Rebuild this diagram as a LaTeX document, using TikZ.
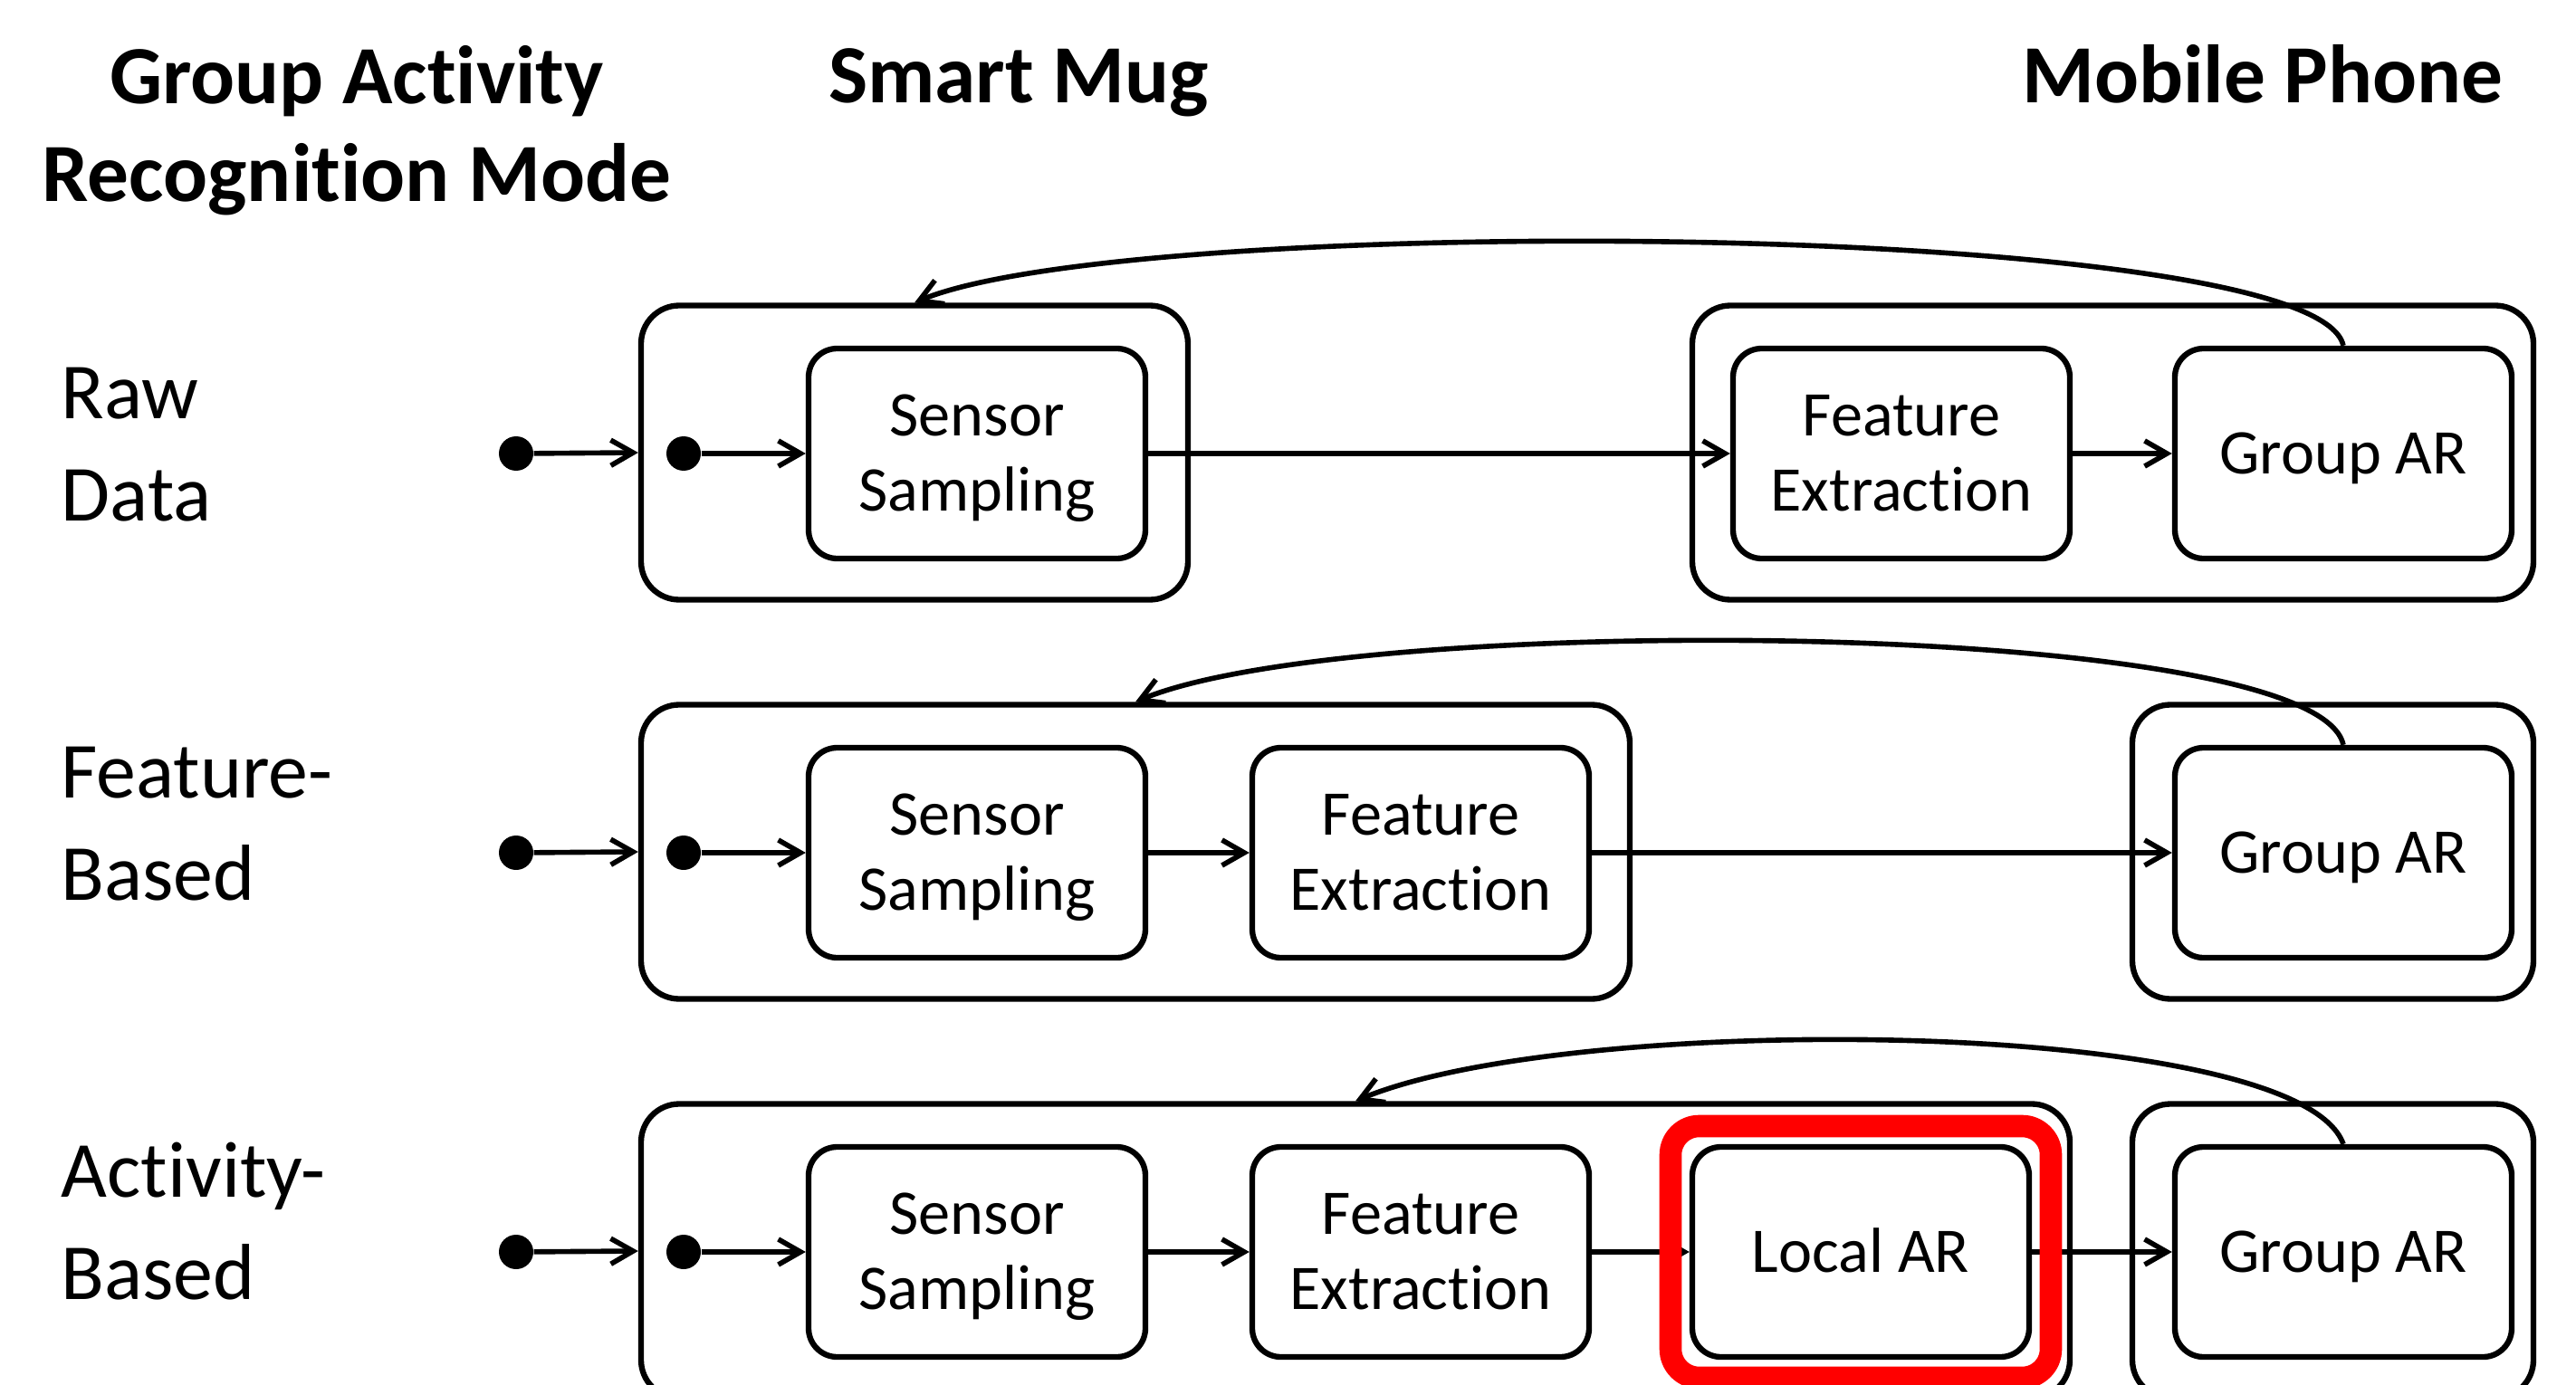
\documentclass[tikz,border=0pt]{standalone}
\usepackage{fontspec}
\setmainfont{Carlito}[Ligatures={NoCommon}]
\usetikzlibrary{positioning,arrows.meta}

\begin{document}
\begin{tikzpicture}[
    every node/.style={font=\fontsize{20}{23.5}\selectfont},
    stage/.style={rectangle, rounded corners=9pt, draw, line width=1.8pt, minimum width=3.72cm, minimum height=2.32cm, align=center, inner sep=0pt, text height=12.6pt, text depth=0pt},
    twoline/.style={text height=36.1pt},
    device/.style={rectangle, rounded corners=12pt, draw, line width=1.8pt, minimum height=3.25cm, inner sep=0pt},
    initdot/.style={circle, fill, inner sep=0pt, minimum size=0.38cm},
    flowarrow/.style={-{Straight Barb[length=7pt,width=8pt]}, line width=1.6pt},
    heading/.style={font=\fontsize{26}{31}\selectfont\bfseries, align=center, inner sep=0pt, anchor=base},
    modelabel/.style={font=\fontsize{25}{32}\selectfont, align=left, inner sep=0pt, anchor=base west}
]
    \useasboundingbox (0,0) rectangle (28.45,-15.30);
    \clip (0,0) rectangle (28.45,-15.30);

    % Column headings
    \node[heading] (modehead) at (3.94, -2.23) {Group Activity\\Recognition Mode};
    \node[heading] (mughead) at (11.25, -1.14) {Smart Mug};
    \node[heading] (phonehead) at (24.99, -1.14) {Mobile Phone};

    % Raw data mode
    \node[modelabel] (rawlabel) at (0.67, -5.75) {Raw\\Data};
    \node[device, minimum width=6.04cm] (mug1) at (10.10, -5.00) {};
    \node[device, minimum width=9.29cm] (phone1) at (23.335, -5.00) {};
    \node[initdot] (a1) at (5.70, -5.01) {};
    \node[initdot] (b1) at (7.55, -5.01) {};
    \node[stage, twoline] (ss1) at (10.79, -5.01) {Sensor\\Sampling};
    \node[stage, twoline] (fe1) at (21.00, -5.01) {Feature\\Extraction};
    \node[stage] (gar1) at (25.88, -5.01) {Group AR};
    \draw[flowarrow] (a1) -- (mug1.west);
    \draw[flowarrow] (b1) -- (ss1.west);
    \draw[flowarrow] (ss1.east) -- (fe1.west);
    \draw[flowarrow] (fe1.east) -- (gar1.west);
    \draw[flowarrow] (gar1.north) .. controls +(-0.3,1.4) and +(2.4,1.0) .. (mug1.north);

    % Feature-based mode
    \node[modelabel] (featlabel) at (0.67, -9.94) {Feature-\\Based};
    \node[device, minimum width=10.92cm] (mug2) at (12.54, -9.41) {};
    \node[device, minimum width=4.43cm] (phone2) at (25.765, -9.41) {};
    \node[initdot] (a2) at (5.70, -9.42) {};
    \node[initdot] (b2) at (7.55, -9.42) {};
    \node[stage, twoline] (ss2) at (10.79, -9.42) {Sensor\\Sampling};
    \node[stage, twoline] (fe2) at (15.69, -9.42) {Feature\\Extraction};
    \node[stage] (gar2) at (25.88, -9.42) {Group AR};
    \draw[flowarrow] (a2) -- (mug2.west);
    \draw[flowarrow] (b2) -- (ss2.west);
    \draw[flowarrow] (ss2.east) -- (fe2.west);
    \draw[flowarrow] (fe2.east) -- (gar2.west);
    \draw[flowarrow] (gar2.north) .. controls +(-0.3,1.4) and +(2.4,1.0) .. (mug2.north);

    % Activity-based mode
    \node[modelabel] (actlabel) at (0.67, -14.35) {Activity-\\Based};
    \node[device, minimum width=15.78cm] (mug3) at (14.97, -13.82) {};
    \node[device, minimum width=4.43cm] (phone3) at (25.765, -13.82) {};
    \node[initdot] (a3) at (5.70, -13.83) {};
    \node[initdot] (b3) at (7.55, -13.83) {};
    \node[stage, twoline] (ss3) at (10.79, -13.83) {Sensor\\Sampling};
    \node[stage, twoline] (fe3) at (15.69, -13.83) {Feature\\Extraction};
    \node[stage] (lar3) at (20.55, -13.83) {Local AR};
    \node[stage] (gar3) at (25.88, -13.83) {Group AR};
    \draw[flowarrow] (a3) -- (mug3.west);
    \draw[flowarrow] (b3) -- (ss3.west);
    \draw[flowarrow] (ss3.east) -- (fe3.west);
    \draw[flowarrow] (fe3.east) -- (lar3.west);
    \draw[flowarrow] (lar3.east) -- (gar3.west);
    \draw[flowarrow] (gar3.north) .. controls +(-0.5,1.4) and +(2.4,1.0) .. (mug3.north);

    % Highlight on the local recognition step
    \node[rectangle, rounded corners=9pt, draw=red, line width=7pt, minimum width=4.20cm, minimum height=2.78cm, inner sep=0pt] (hilite) at (lar3) {};
\end{tikzpicture}
\end{document}
